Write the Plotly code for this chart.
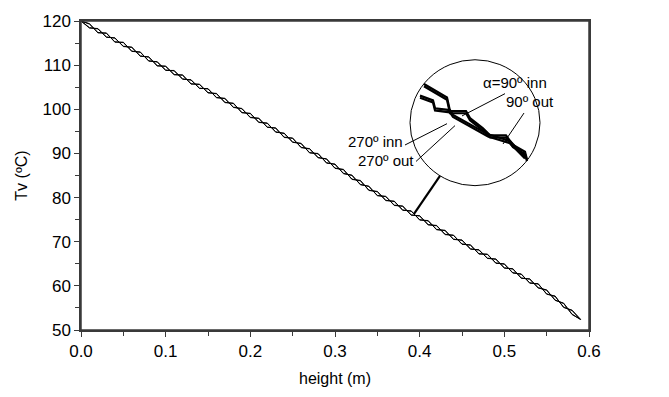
import plotly.graph_objects as go

# ---------------- data ----------------
height = [0.00, 0.01, 0.02, 0.03, 0.04, 0.05, 0.06, 0.07, 0.08, 0.09,
          0.10, 0.11, 0.12, 0.13, 0.14, 0.15, 0.16, 0.17, 0.18, 0.19,
          0.20, 0.21, 0.22, 0.23, 0.24, 0.25, 0.26, 0.27, 0.28, 0.29,
          0.30, 0.31, 0.32, 0.33, 0.34, 0.35, 0.36, 0.37, 0.38, 0.39,
          0.40, 0.41, 0.42, 0.43, 0.44, 0.45, 0.46, 0.47, 0.48, 0.49,
          0.50, 0.51, 0.52, 0.53, 0.54, 0.55, 0.56, 0.57, 0.58, 0.59]

tv_90_inn = [120.0, 118.5, 118.2, 116.4, 116.1, 114.3, 114.0, 112.1, 111.8, 109.9,
             109.7, 107.9, 107.7, 105.8, 105.6, 103.8, 103.5, 101.6, 101.3, 99.3,
             99.0, 97.1, 96.8, 94.9, 94.5, 92.6, 92.2, 90.2, 89.9, 87.9,
             87.5, 85.5, 85.0, 83.0, 82.5, 80.5, 80.2, 78.3, 78.0, 76.1,
             75.8, 73.9, 73.6, 71.7, 71.4, 69.5, 69.2, 67.3, 67.1, 65.2,
             64.9, 63.0, 62.6, 60.7, 60.4, 58.2, 57.6, 55.2, 54.4, 52.4]

tv_90_out = [120.0, 119.3, 117.4, 117.2, 115.3, 115.1, 113.2, 112.9, 111.0, 110.7,
             108.9, 108.7, 106.9, 106.6, 104.8, 104.6, 102.7, 102.4, 100.5, 100.1,
             98.2, 97.9, 96.0, 95.7, 93.7, 93.4, 91.4, 91.0, 89.1, 88.7,
             86.7, 86.3, 84.2, 83.8, 81.7, 81.3, 79.4, 79.1, 77.2, 76.9,
             75.0, 74.7, 72.8, 72.5, 70.6, 70.3, 68.4, 68.1, 66.3, 66.0,
             64.1, 63.8, 61.8, 61.5, 59.6, 59.0, 56.8, 56.0, 53.6, 52.4]

tv_270_inn = [120.0, 118.4, 118.3, 116.3, 116.2, 114.2, 114.1, 112.0, 111.9, 109.8,
              109.8, 107.8, 107.8, 105.7, 105.7, 103.7, 103.6, 101.5, 101.4, 99.2,
              99.1, 97.0, 96.9, 94.8, 94.6, 92.5, 92.3, 90.1, 90.0, 87.8,
              87.6, 85.4, 85.1, 82.9, 82.6, 80.4, 80.3, 78.2, 78.1, 76.0,
              75.9, 73.8, 73.7, 71.6, 71.5, 69.4, 69.3, 67.2, 67.2, 65.1,
              65.0, 62.9, 62.7, 60.6, 60.5, 58.1, 57.7, 55.1, 54.5, 52.4]

tv_270_out = [120.0, 119.4, 117.3, 117.3, 115.2, 115.2, 113.1, 113.0, 110.9, 110.8,
              108.8, 108.8, 106.8, 106.7, 104.7, 104.7, 102.6, 102.5, 100.4, 100.2,
              98.1, 98.0, 95.9, 95.8, 93.6, 93.5, 91.3, 91.1, 89.0, 88.8,
              86.6, 86.4, 84.1, 83.9, 81.6, 81.4, 79.3, 79.2, 77.1, 77.0,
              74.9, 74.8, 72.7, 72.6, 70.5, 70.4, 68.3, 68.2, 66.2, 66.1,
              64.0, 63.9, 61.7, 61.6, 59.5, 59.1, 56.7, 56.1, 53.5, 52.4]

# zoomed-in detail shown in the circular inset
inset_h_90 = [0.35215, 0.35569, 0.35615, 0.35862, 0.35923, 0.36123, 0.36231, 0.36477, 0.36585, 0.36769, 0.36800]
inset_90_inn = [77.73, 77.30, 76.87, 76.87, 76.65, 76.32, 76.10, 76.10, 75.79, 75.58, 75.33]
inset_90_out = [77.66, 77.23, 76.80, 76.80, 76.58, 76.25, 76.03, 76.03, 75.72, 75.51, 75.28]
inset_h_270 = [0.35154, 0.35354, 0.35385, 0.35615, 0.35662, 0.35923, 0.36123, 0.36200, 0.36538, 0.36769]
inset_270_inn = [77.36, 77.21, 76.96, 76.90, 76.75, 76.44, 76.22, 76.13, 75.92, 75.42]
inset_270_out = [77.29, 77.14, 76.89, 76.83, 76.68, 76.37, 76.15, 76.06, 75.85, 75.36]

x_ticks = [0.0, 0.1, 0.2, 0.3, 0.4, 0.5, 0.6]
x_tick_labels = ["0.0", "0.1", "0.2", "0.3", "0.4", "0.5", "0.6"]
y_ticks = [50, 60, 70, 80, 90, 100, 110, 120]

FONT = "Liberation Sans, Arial, sans-serif"
AX = "#3a3a3a"

# plot area in pixels
PL, PR, PT, PB = 81, 589, 13, 332
W, H = 669, 397

fig = go.Figure()

for ys in (tv_90_inn, tv_90_out, tv_270_inn, tv_270_out):
    fig.add_trace(go.Scatter(x=height, y=ys, mode="lines",
                             line=dict(color="black", width=1),
                             showlegend=False, hoverinfo="skip"))

for xs, ys in ((inset_h_90, inset_90_inn), (inset_h_90, inset_90_out),
               (inset_h_270, inset_270_inn), (inset_h_270, inset_270_out)):
    fig.add_trace(go.Scatter(x=xs, y=ys, mode="lines", xaxis="x2", yaxis="y2",
                             line=dict(color="black", width=2.2),
                             showlegend=False, hoverinfo="skip"))

def px(x, y):
    return (x - PL) / (PR - PL), (PB - y) / (PB - PT)

# circle (pixel bbox 410..540 x 53..183)
cx0, cy1 = px(410, 53)
cx1, cy0 = px(540, 183)

shapes = [
    dict(type="rect", xref="paper", yref="paper", x0=0, x1=1, y0=0, y1=1,
         line=dict(color=AX, width=1.5), layer="above"),
    dict(type="circle", xref="paper", yref="paper", x0=cx0, x1=cx1, y0=cy0, y1=cy1,
         line=dict(color="black", width=1)),
]

pointer_lines = [
    ((440, 173), (414, 212), 2.2),   # circle to curve
    ((416, 158), (455, 121), 1),     # 270 out
    ((405, 141), (447, 119), 1),     # 270 inn
    ((462, 111), (505, 88), 1),      # 90 inn
    ((524, 108), (503, 140), 1),     # 90 out
]
for (a, b, w) in pointer_lines:
    xa, ya = px(*a)
    xb, yb = px(*b)
    shapes.append(dict(type="line", xref="paper", yref="paper", x0=xa, y0=ya, x1=xb, y1=yb,
                       line=dict(color="black", width=w)))

labels = [
    ("α=90º inn", (549, 76), "right"),
    ("90º out", (556, 96), "right"),
    ("270º inn", (405, 137), "right"),
    ("270º out", (416, 157), "right"),
]
annotations = []
for text, (x, y), anchor in labels:
    xp, yp = px(x, y)
    annotations.append(dict(text=text, x=xp, y=yp, xref="paper", yref="paper",
                            xanchor=anchor, yanchor="middle", showarrow=False,
                            font=dict(family=FONT, size=15, color="black")))

fig.update_layout(
    width=W, height=H,
    margin=dict(l=PL, r=W - PR, t=PT, b=H - PB),
    paper_bgcolor="white", plot_bgcolor="white",
    font=dict(family=FONT, size=16, color="black"),
    shapes=shapes, annotations=annotations,
    xaxis=dict(range=[0, 0.6], tickvals=x_ticks, ticktext=x_tick_labels,
               ticks="outside", ticklen=5, tickwidth=1.2, tickcolor=AX,
               minor=dict(dtick=0.05, tick0=0, ticks="outside", ticklen=4, tickcolor=AX),
               showline=True, linecolor=AX, linewidth=1.5, mirror=True,
               showgrid=False, zeroline=False,
               title=dict(text="height (m)", standoff=13, font=dict(size=16)),
               tickfont=dict(size=17)),
    yaxis=dict(range=[50, 120], tickvals=y_ticks,
               ticks="outside", ticklen=5, tickwidth=1.2, tickcolor=AX,
               minor=dict(dtick=5, tick0=50, ticks="outside", ticklen=4, tickcolor=AX),
               showline=True, linecolor=AX, linewidth=1.5, mirror=True,
               showgrid=False, zeroline=False,
               title=dict(text="Tv (ºC)", standoff=11, font=dict(size=16)),
               tickfont=dict(size=17)),
    xaxis2=dict(domain=[cx0, cx1], range=[0.350, 0.370], visible=False, anchor="y2"),
    yaxis2=dict(domain=[cy0, cy1], range=[74.5, 78.5], visible=False, anchor="x2"),
)

fig.write_html("out.html", config={"displayModeBar": False},
               post_script="document.body.style.margin='0';document.body.style.overflow='hidden';")
